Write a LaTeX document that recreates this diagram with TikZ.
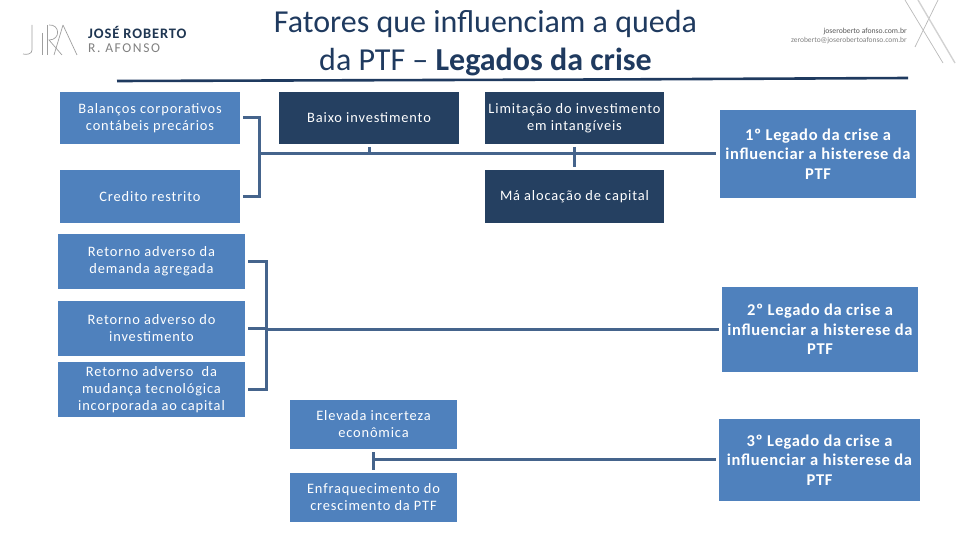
\documentclass[tikz,border=0pt]{standalone}
\usepackage{fontspec}
\setmainfont{Carlito}
\newfontfamily\spaced[LetterSpace=6]{Carlito}
\newfontfamily\legacyfont[LetterSpace=4]{Carlito Bold}
\newfontfamily\logoboldfont[LetterSpace=6]{Carlito Bold}
\newfontfamily\logofont[LetterSpace=12]{Carlito}
\definecolor{midblue}{HTML}{4F81BD}
\definecolor{darkblue}{HTML}{254061}
\definecolor{linkblue}{HTML}{45648C}
\definecolor{titleblue}{HTML}{1F3A5F}
\tikzset{
  x=1pt,y=-1pt,
  boxbase/.style={anchor=center,inner sep=0pt,outer sep=0pt,text=white,align=center},
  lightbox/.style={boxbase,fill=midblue,font=\spaced\fontsize{14.4}{17}\selectfont},
  darkbox/.style={boxbase,fill=darkblue,font=\spaced\fontsize{14.4}{17}\selectfont},
  legacybox/.style={boxbase,fill=midblue,font=\legacyfont\fontsize{16.5}{19.5}\selectfont},
  link/.style={draw=linkblue,line width=3pt},
  titletext/.style={inner sep=0pt,text=titleblue,align=center,font=\fontsize{32}{38}\selectfont},
  rulerline/.style={draw=titleblue,line width=2.6pt},
  logoline/.style={draw=gray!75,line width=0.7pt},
  crossline/.style={draw=gray!55,line width=0.7pt},
  crossthick/.style={draw=gray!35,line width=1.4pt}
}
\newcommand{\boxat}[7][lightbox]{\node[#1,minimum width=#4-#3,minimum height=#6-#5] (#2) at ({(#3+#4)/2},{(#5+#6)/2}) {#7};}
\begin{document}
\begin{tikzpicture}
\useasboundingbox (0,0) rectangle (960,540);
\node[titletext] (title) at (485.5,43) {Fatores que influenciam a queda\\da PTF – \textbf{Legados da crise}};
\coordinate (ruleL) at (117,81); \coordinate (ruleM) at (600,79.5); \coordinate (ruleR) at (908,78);
\draw[rulerline] (ruleL) -- (ruleM) -- (ruleR);

\boxat{bal}{60}{240}{92}{144}{Balanços corporativos\\contábeis precários}
\boxat{cre}{60}{240}{170}{223}{Credito restrito}
\boxat[darkbox]{bai}{279}{459}{92}{144}{Baixo investimento}
\boxat[darkbox]{lim}{485}{664}{92}{144}{Limitação do investimento\\em intangíveis}
\boxat[darkbox]{ma}{485}{664}{170}{223}{Má alocação de capital}
\boxat[legacybox]{leg1}{720}{916}{110}{198}{1º Legado da crise a\\influenciar a histerese da\\PTF}
\boxat{ret1}{58}{245}{234}{289}{Retorno adverso da\\demanda agregada}
\boxat{ret2}{58}{245}{301}{356}{Retorno adverso do\\investimento}
\boxat{ret3}{58}{245}{362}{417}{Retorno adverso\ \ da\\mudança tecnológica\\incorporada ao capital}
\boxat{ele}{290}{457}{400}{449}{Elevada incerteza\\econômica}
\boxat{enf}{290}{457}{473}{522}{Enfraquecimento do\\crescimento da PTF}
\boxat[legacybox]{leg2}{722}{918}{287}{372}{2º Legado da crise a\\influenciar a histerese da\\PTF}
\boxat[legacybox]{leg3}{719}{920}{419}{501}{3º Legado da crise a\\influenciar a histerese da\\PTF}

% bracket 1
\coordinate (a1) at ([xshift=3pt]bal.east|-0,118);
\coordinate (a2) at ([xshift=3pt]cre.east|-0,196);
\coordinate (aj) at (259,154);
\draw[link] (a1) -- (259,118) -- (259,196) -- (a2);
\draw[link] (aj) -- ([xshift=-4pt]leg1.west|-aj);
\draw[link] (bai.south|-0,147) -- (bai.south|-aj);
\draw[link] (lim.south|-0,147) -- (ma.north|-0,167);
% bracket 2
\coordinate (b1) at ([xshift=3pt]ret1.east|-0,261);
\coordinate (b2) at ([xshift=3pt]ret2.east|-0,328);
\coordinate (b3) at ([xshift=3pt]ret3.east|-0,389);
\draw[link] (b1) -- (266,261) -- (266,389) -- (b3);
\draw[link] (b2) -- (266,328);
\coordinate (bj) at (266,329.5);
\draw[link] (bj) -- ([xshift=-3pt]leg2.west|-bj);
% bracket 3
\coordinate (cj) at (373,459.5);
\draw[link] (cj|-0,452) -- (cj|-0,470);
\draw[link] (cj) -- ([xshift=-3pt]leg3.west|-cj);

% logo left
\node[inner sep=0pt,anchor=west,text=darkblue!85!black,font=\logoboldfont\fontsize{14.5}{14}\selectfont] (logoa) at (88,32.5) {JOSÉ ROBERTO};
\node[inner sep=0pt,anchor=west,text=gray,font=\logofont\fontsize{13.5}{14}\selectfont] (logob) at (88,48) {R. AFONSO};
\draw[logoline] (32,25) -- (32,50) .. controls (32,54) and (27,55) .. (23,54);
\draw[logoline] (42,33) -- (42,55) (47,25) -- (47,55);
\draw[logoline] (49,25) .. controls (60,24) and (61,40) .. (49,40) -- (62,55);
\draw[logoline] (63,25) -- (54,55) (63,25) -- (77,55);
% contact text
\node[inner sep=0pt,anchor=east,text=black!65,font=\fontsize{7.7}{7}\selectfont] (c1) at (907,31.5) {joseroberto afonso.com.br};
\node[inner sep=0pt,anchor=east,text=gray,font=\fontsize{7.5}{7}\selectfont] (c2) at (907,41) {zeroberto@joserobertoafonso.com.br};
\draw[crossline] (905,0) -- (943,63) (938,0) -- (915,47);
\draw[crossthick] (918,0) -- (955,63);
\end{tikzpicture}
\end{document}
